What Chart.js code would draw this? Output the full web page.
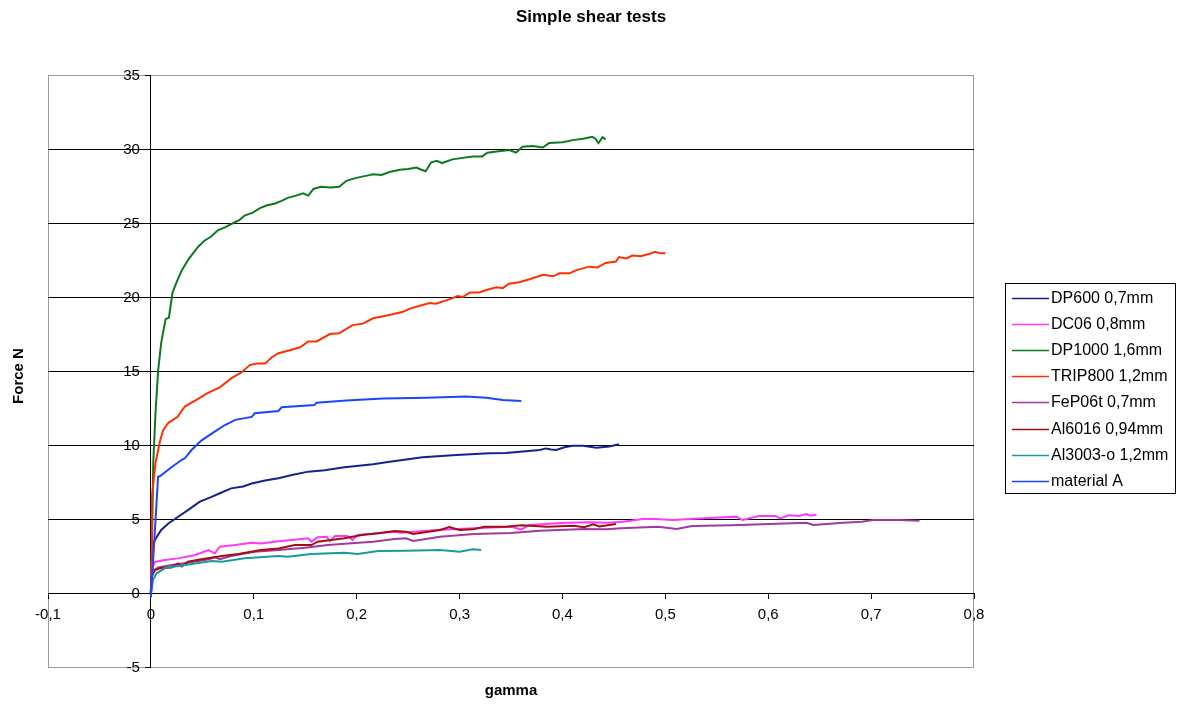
<!DOCTYPE html>
<html>
<head>
<meta charset="utf-8">
<title>Simple shear tests</title>
<script src="https://cdn.jsdelivr.net/npm/chart.js@4.4.1/dist/chart.umd.min.js"></script>
<style>
  html, body { margin: 0; padding: 0; background: #ffffff; }
  #wrap { width: 1182px; height: 707px; position: relative; }
</style>
</head>
<body>
<div id="wrap"><canvas id="chart"></canvas></div>
<script>
// Simple shear test curves: [gamma, force N]
const dp600 = [[0,0],[0.0008,3.0],[0.004,3.6],[0.010,4.26],[0.017,4.7],[0.0265,5.15],[0.036,5.6],[0.0476,6.17],[0.059,6.5],[0.067,6.74],[0.078,7.07],[0.0896,7.2],[0.098,7.4],[0.111,7.6],[0.124,7.75],[0.137,7.97],[0.153,8.2],[0.169,8.3],[0.188,8.5],[0.216,8.7],[0.232,8.87],[0.264,9.17],[0.297,9.32],[0.329,9.44],[0.345,9.46],[0.378,9.66],[0.384,9.77],[0.389,9.7],[0.394,9.66],[0.402,9.85],[0.410,9.95],[0.420,9.95],[0.433,9.82],[0.4456,9.9],[0.455,10.05]];
const dc06 = [[0,0],[0.0005,0.9],[0.002,1.8],[0.004,2.1],[0.0136,2.23],[0.0265,2.34],[0.043,2.57],[0.056,2.9],[0.062,2.68],[0.067,3.13],[0.0816,3.24],[0.098,3.4],[0.107,3.34],[0.124,3.5],[0.137,3.58],[0.153,3.7],[0.156,3.47],[0.162,3.76],[0.171,3.8],[0.174,3.5],[0.179,3.85],[0.191,3.85],[0.196,3.58],[0.201,3.92],[0.221,4.03],[0.237,4.14],[0.242,4.07],[0.250,4.1],[0.278,4.26],[0.314,4.37],[0.350,4.48],[0.360,4.3],[0.368,4.6],[0.404,4.75],[0.426,4.78],[0.443,4.75],[0.459,4.82],[0.478,5.0],[0.490,5.0],[0.507,4.93],[0.533,5.04],[0.569,5.16],[0.575,4.93],[0.591,5.2],[0.607,5.2],[0.612,5.04],[0.620,5.25],[0.630,5.2],[0.637,5.34],[0.641,5.22],[0.647,5.28]];
const dp1000 = [[0,0],[0.001,3],[0.0023,8.8],[0.0045,12.2],[0.007,15],[0.010,16.9],[0.0143,18.5],[0.0175,18.6],[0.021,20.3],[0.025,21.0],[0.030,21.8],[0.037,22.6],[0.046,23.4],[0.052,23.8],[0.059,24.1],[0.065,24.5],[0.072,24.7],[0.080,25.0],[0.086,25.2],[0.091,25.5],[0.099,25.7],[0.106,26.0],[0.113,26.2],[0.120,26.3],[0.127,26.5],[0.133,26.7],[0.141,26.85],[0.148,27.0],[0.153,26.85],[0.158,27.3],[0.165,27.45],[0.175,27.4],[0.183,27.45],[0.190,27.85],[0.197,28.0],[0.203,28.1],[0.210,28.2],[0.216,28.3],[0.224,28.25],[0.232,28.45],[0.242,28.6],[0.250,28.65],[0.258,28.75],[0.263,28.6],[0.267,28.5],[0.2725,29.1],[0.278,29.2],[0.283,29.05],[0.293,29.3],[0.303,29.4],[0.313,29.5],[0.322,29.5],[0.327,29.75],[0.338,29.85],[0.3485,29.93],[0.355,29.75],[0.361,30.15],[0.371,30.2],[0.381,30.1],[0.387,30.4],[0.400,30.45],[0.410,30.6],[0.420,30.7],[0.429,30.83],[0.432,30.7],[0.435,30.4],[0.439,30.8],[0.442,30.65]];
const trip800 = [[0,0],[0.0005,2],[0.001,6.5],[0.0045,8.8],[0.009,10.3],[0.012,11.0],[0.017,11.5],[0.026,11.9],[0.033,12.6],[0.043,13.0],[0.055,13.5],[0.067,13.9],[0.078,14.5],[0.088,14.9],[0.096,15.4],[0.103,15.5],[0.111,15.5],[0.117,15.9],[0.124,16.2],[0.135,16.4],[0.145,16.6],[0.153,17.0],[0.161,17.0],[0.174,17.5],[0.183,17.55],[0.196,18.1],[0.206,18.2],[0.216,18.56],[0.226,18.7],[0.236,18.85],[0.245,19.0],[0.251,19.2],[0.264,19.46],[0.271,19.6],[0.277,19.55],[0.290,19.84],[0.298,20.07],[0.303,20.0],[0.310,20.3],[0.319,20.3],[0.326,20.47],[0.336,20.65],[0.342,20.6],[0.348,20.9],[0.358,21.0],[0.368,21.2],[0.381,21.5],[0.391,21.4],[0.397,21.6],[0.407,21.6],[0.413,21.8],[0.426,22.05],[0.434,22.0],[0.442,22.3],[0.452,22.4],[0.455,22.7],[0.462,22.6],[0.468,22.8],[0.476,22.75],[0.484,22.9],[0.490,23.05],[0.495,22.95],[0.500,22.95]];
const fep06t = [[0,0],[0.0006,1.44],[0.007,1.73],[0.020,1.89],[0.036,2.05],[0.056,2.28],[0.062,2.41],[0.067,2.28],[0.078,2.5],[0.101,2.79],[0.124,2.9],[0.150,3.06],[0.172,3.24],[0.195,3.36],[0.216,3.47],[0.237,3.65],[0.248,3.7],[0.255,3.51],[0.281,3.8],[0.314,3.98],[0.350,4.05],[0.378,4.2],[0.421,4.32],[0.443,4.3],[0.457,4.37],[0.493,4.48],[0.511,4.32],[0.526,4.53],[0.565,4.57],[0.601,4.66],[0.637,4.75],[0.644,4.6],[0.673,4.75],[0.691,4.82],[0.702,4.93],[0.727,4.93],[0.747,4.89]];
const al6016 = [[0,0],[0.0006,1.1],[0.004,1.55],[0.0087,1.67],[0.020,1.73],[0.0265,2.0],[0.030,1.8],[0.036,2.12],[0.049,2.28],[0.069,2.5],[0.085,2.64],[0.107,2.9],[0.124,3.0],[0.140,3.24],[0.156,3.24],[0.162,3.47],[0.188,3.7],[0.205,3.92],[0.221,4.03],[0.237,4.19],[0.248,4.14],[0.255,3.99],[0.281,4.26],[0.290,4.46],[0.300,4.26],[0.313,4.3],[0.324,4.48],[0.345,4.48],[0.360,4.57],[0.385,4.48],[0.411,4.55],[0.421,4.44],[0.430,4.64],[0.436,4.5],[0.452,4.66]];
const al3003 = [[0,0],[0.0007,0.2],[0.002,0.88],[0.0055,1.33],[0.0136,1.67],[0.0265,1.82],[0.043,2.0],[0.059,2.16],[0.069,2.12],[0.091,2.34],[0.124,2.5],[0.133,2.45],[0.156,2.64],[0.188,2.72],[0.201,2.64],[0.221,2.84],[0.248,2.86],[0.281,2.9],[0.300,2.79],[0.313,2.95],[0.321,2.9]];
const materialA = [[0,-0.3],[0.007,7.86],[0.009,7.9],[0.020,8.5],[0.030,9.0],[0.033,9.1],[0.0395,9.66],[0.049,10.3],[0.062,10.9],[0.072,11.35],[0.082,11.7],[0.098,11.9],[0.101,12.14],[0.124,12.3],[0.127,12.55],[0.159,12.7],[0.161,12.86],[0.190,13.0],[0.2255,13.15],[0.268,13.2],[0.306,13.27],[0.326,13.2],[0.342,13.04],[0.360,12.97]];

const seriesNames = ['DP600 0,7mm', 'DC06 0,8mm', 'DP1000 1,6mm', 'TRIP800 1,2mm', 'FeP06t 0,7mm', 'Al6016 0,94mm', 'Al3003-o 1,2mm', 'material A'];
const seriesData = [dp600, dc06, dp1000, trip800, fep06t, al6016, al3003, materialA];
const seriesColors = ['#14228f', '#ff38ff', '#0b7a1f', '#ff3000', '#a03aa0', '#a01010', '#1a9a9a', '#1a45ff'];

const xTickLabels = ['-0,1', '0', '0,1', '0,2', '0,3', '0,4', '0,5', '0,6', '0,7', '0,8'];
const yTickValues = [-5, 0, 5, 10, 15, 20, 25, 30, 35];
const yTickLabels = ['-5', '0', '5', '10', '15', '20', '25', '30', '35'];

const chartTitle = 'Simple shear tests';
const xTitle = 'gamma';
const yTitle = 'Force N';

const FONT = "'Liberation Sans', Arial, sans-serif";

// Plot frame in grey, drawn beneath grid and curves
const framePlugin = {
  id: 'frame',
  beforeDraw(chart) {
    const { ctx, chartArea: a } = chart;
    ctx.save();
    ctx.strokeStyle = '#9a9a9a';
    ctx.lineWidth = 1;
    ctx.strokeRect(Math.round(a.left) + 0.5, Math.round(a.top) + 0.5,
      Math.round(a.right - a.left) - 1, Math.round(a.bottom - a.top));
    ctx.restore();
  }
};

// Title, axis titles, force tick labels beside the zero line, boxed legend
const textPlugin = {
  id: 'texts',
  afterDraw(chart) {
    const { ctx, chartArea: a } = chart;
    const xs = chart.scales.x, ys = chart.scales.y;
    ctx.save();
    ctx.fillStyle = '#000';
    ctx.textAlign = 'center';
    ctx.textBaseline = 'middle';
    ctx.font = 'bold 17px ' + FONT;
    ctx.fillText(chartTitle, chart.width / 2, 17);

    ctx.font = 'bold 15px ' + FONT;
    ctx.fillText(xTitle, (a.left + a.right) / 2, 691);
    ctx.save();
    ctx.translate(19, 376);
    ctx.rotate(-Math.PI / 2);
    ctx.fillText(yTitle, 0, 0);
    ctx.restore();

    // y tick labels, right-aligned left of the axis at gamma = 0
    const axisX = xs.getPixelForValue(0);
    ctx.font = '15px ' + FONT;
    ctx.textAlign = 'right';
    yTickValues.forEach((v, i) => {
      ctx.fillText(yTickLabels[i], axisX - 11, ys.getPixelForValue(v) + 1);
    });

    // legend
    const lx = 1005, ly = 283, lw = 170, lh = 210, rowH = 26.1, firstY = 298;
    ctx.strokeStyle = '#000';
    ctx.lineWidth = 1;
    ctx.strokeRect(lx + 0.5, ly + 0.5, lw, lh);
    ctx.font = '16px ' + FONT;
    ctx.textAlign = 'left';
    chart.data.datasets.forEach((ds, i) => {
      const y = Math.round(firstY + i * rowH);
      ctx.strokeStyle = ds.borderColor;
      ctx.lineWidth = 1.5;
      ctx.beginPath();
      ctx.moveTo(1012, y + 0.5);
      ctx.lineTo(1049, y + 0.5);
      ctx.stroke();
      ctx.fillStyle = '#000';
      ctx.fillText(ds.label, 1051, y + 1);
    });
    ctx.restore();
  }
};

const datasets = seriesNames.map((name, i) => ({
  label: name,
  data: seriesData[i].map(p => ({ x: p[0], y: p[1] })),
  borderColor: seriesColors[i],
  backgroundColor: seriesColors[i],
  borderWidth: 2,
  pointRadius: 0,
  showLine: true,
  tension: 0,
  fill: false,
  order: seriesNames.length - i
}));

new Chart(document.getElementById('chart'), {
  type: 'scatter',
  data: { datasets },
  options: {
    responsive: true,
    maintainAspectRatio: false,
    animation: false,
    devicePixelRatio: 1,
    layout: { padding: { left: 48, top: 75, right: 208, bottom: 40 } },
    plugins: {
      legend: { display: false },
      title: { display: false },
      tooltip: { enabled: false }
    },
    scales: {
      x: {
        type: 'linear',
        min: -0.1,
        max: 0.8,
        position: { y: 0 },
        border: { display: true, color: '#000', width: 1 },
        grid: { drawOnChartArea: false, drawTicks: true, tickLength: 5, tickColor: '#000' },
        ticks: {
          stepSize: 0.1,
          autoSkip: false,
          maxRotation: 0,
          color: '#000',
          padding: 8,
          font: { family: FONT, size: 15 },
          callback: (v, idx) => xTickLabels[idx]
        }
      },
      y: {
        type: 'linear',
        min: -5,
        max: 35,
        position: { x: 0 },
        border: { display: true, color: '#000', width: 1 },
        grid: {
          color: c => (c.tick && (c.tick.value === 35 || c.tick.value === -5)) ? 'rgba(0,0,0,0)' : '#000',
          tickColor: '#000',
          tickLength: 5,
          lineWidth: 1
        },
        ticks: {
          stepSize: 5,
          autoSkip: false,
          display: false
        }
      }
    }
  },
  plugins: [framePlugin, textPlugin]
});
</script>
</body>
</html>
